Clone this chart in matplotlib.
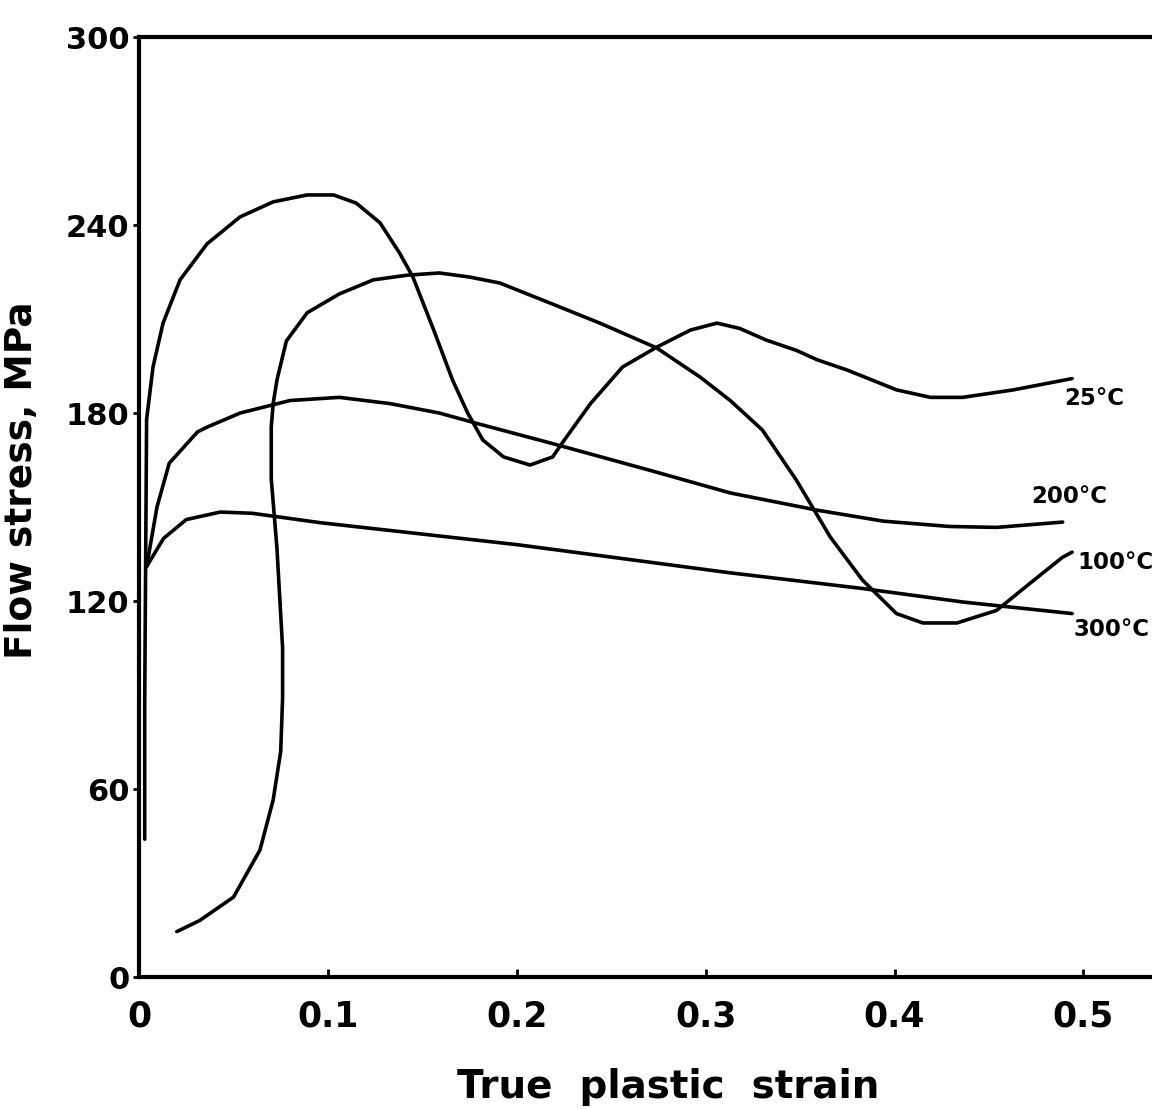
import numpy as np
import matplotlib.pyplot as plt

# flow stress curves (true plastic strain, MPa)
strain_25 = [0.003, 0.003, 0.0035, 0.004, 0.0074, 0.0127, 0.0217, 0.036, 0.0535, 0.071, 0.089,
             0.103, 0.115, 0.1276, 0.138, 0.145, 0.156, 0.166, 0.174, 0.182, 0.193, 0.207,
             0.219, 0.224, 0.239, 0.256, 0.274, 0.292, 0.306, 0.318, 0.332, 0.348, 0.359,
             0.375, 0.401, 0.419, 0.436, 0.463, 0.494]
stress_25 = [44, 88, 133, 178, 194.7, 208.7, 222.5, 234, 242.6, 247.4, 249.6,
             249.6, 247, 240.7, 231, 223.4, 206.5, 190.5, 180, 171.4, 166, 163.4,
             166, 170.4, 183, 194.7, 201, 206.5, 208.7, 207, 203.3, 200, 197,
             193.7, 187.4, 185, 185, 187.4, 191]

strain_100 = [0.020, 0.032, 0.050, 0.064, 0.071, 0.075, 0.076, 0.076, 0.073, 0.070, 0.070, 0.071,
              0.073, 0.078, 0.089, 0.106, 0.124, 0.142, 0.159, 0.175, 0.191, 0.218, 0.244,
              0.274, 0.297, 0.313, 0.330, 0.348, 0.366, 0.383, 0.401, 0.415, 0.433, 0.454,
              0.472, 0.489, 0.494]
stress_100 = [14.5, 18, 25.5, 40.5, 56.5, 72, 89, 105, 137, 159, 175.5, 183,
              190.5, 203, 212, 218, 222.5, 224, 224.7, 223.4, 221.5, 215, 208.7,
              200.8, 191.5, 184, 174.6, 158.6, 140.4, 126.7, 116, 113, 113, 117,
              125.8, 134, 135.6]

strain_200 = [0.004, 0.0095, 0.016, 0.031, 0.036, 0.0535, 0.080, 0.106, 0.133, 0.159, 0.180,
              0.218, 0.270, 0.313, 0.359, 0.394, 0.429, 0.454, 0.489]
stress_200 = [131, 150, 164, 174, 175.5, 180, 184, 185, 183, 180, 176.5,
              170.4, 161.8, 154.5, 149, 145.5, 143.8, 143.5, 145.2]

strain_300 = [0.004, 0.013, 0.025, 0.043, 0.060, 0.096, 0.2, 0.313, 0.383, 0.436, 0.494]
stress_300 = [131, 140, 146, 148.4, 148, 145, 138, 129, 124, 119.7, 116]

curve_labels = ['25°C', '100°C', '200°C', '300°C']
# label offsets from the curve end, in pixels
label_offsets = [(-8, -20), (5, -10), (-31, 26), (1, -16)]

x_ticks = [0, 0.1, 0.2, 0.3, 0.4, 0.5]
x_tick_labels = ['0', '0.1', '0.2', '0.3', '0.4', '0.5']
y_ticks = [0, 60, 120, 180, 240, 300]

fig = plt.figure(figsize=(11.52, 11.09), dpi=100)
ax = fig.add_axes([0.1207, 0.119, 0.8793, 0.8476])

curves = [(strain_25, stress_25), (strain_100, stress_100),
          (strain_200, stress_200), (strain_300, stress_300)]
for (sx, sy), label, off in zip(curves, curve_labels, label_offsets):
    ax.plot(sx, sy, color='black', lw=2.6, solid_capstyle='round', solid_joinstyle='round')
    ax.annotate(label, xy=(sx[-1], sy[-1]), xytext=off, textcoords='offset pixels',
                ha='left', va='center', fontsize=16.5, fontweight='bold')

ax.set_xlim(0, 0.5363)
ax.set_ylim(0, 300)
ax.set_xticks(x_ticks)
ax.set_xticklabels(x_tick_labels)
ax.set_yticks(y_ticks)

for side in ['left', 'top', 'bottom']:
    ax.spines[side].set_linewidth(3)
ax.spines['right'].set_visible(False)

ax.tick_params(axis='x', direction='in', length=6, width=2, pad=16, labelsize=25)
ax.tick_params(axis='y', direction='out', length=4, width=2, pad=3, labelsize=22)
for lbl in ax.get_xticklabels() + ax.get_yticklabels():
    lbl.set_fontweight('bold')

ax.set_xlabel('True  plastic  strain', fontsize=28, fontweight='bold')
ax.set_ylabel('Flow stress, MPa', fontsize=27, fontweight='bold')
ax.xaxis.set_label_coords(0.522, -0.097)
ax.yaxis.set_label_coords(-0.098, 0.529)

fig.savefig('out.png', dpi=100)
